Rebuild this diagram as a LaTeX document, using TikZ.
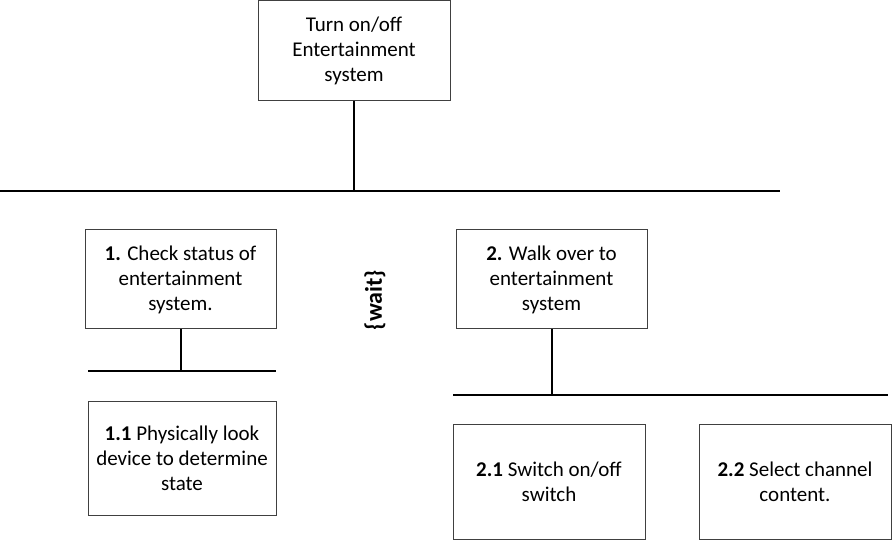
\documentclass[tikz,border=0pt]{standalone}
\usepackage{fontspec}
\setmainfont{Carlito}
\tikzset{
  taskbox/.style={draw=black!75,line width=1pt,align=center,inner sep=2pt,
    font=\fontsize{21}{25}\selectfont},
  bus/.style={line width=2pt}
}
\begin{document}
\begin{tikzpicture}[x=1pt,y=-1pt]
  \useasboundingbox (0,0) rectangle (895,540);
  \node[taskbox,minimum width=192,minimum height=100] (top) at (354,51) {Turn on/off\\Entertainment\\system};
  \node[taskbox,minimum width=191,minimum height=99] (t1) at (180.5,279.5) {\textbf{1.} Check status of\\entertainment\\system.};
  \node[taskbox,minimum width=188,minimum height=114] (t11) at (182,458) {\textbf{1.1} Physically look\\device to determine\\state};
  \node[taskbox,minimum width=191,minimum height=99] (t2) at (551.5,279.5) {\textbf{2.} Walk over to\\entertainment\\system};
  \node[taskbox,minimum width=192,minimum height=115] (t21) at (549,481.5) {\textbf{2.1} Switch on/off\\switch};
  \node[taskbox,minimum width=192,minimum height=115] (t22) at (795,481.5) {\textbf{2.2} Select channel\\content.};
  \node[rotate=90,font=\fontsize{24}{24}\selectfont\bfseries] (wait) at (375,300) {\{wait\}};
  \coordinate (busL) at (0,191);
  \coordinate (busR) at (780,191);
  \coordinate (bus1L) at (88,371);
  \coordinate (bus1R) at (276,371);
  \coordinate (bus2L) at (453,395);
  \coordinate (bus2R) at (888,395);
  \draw[bus] (busL) -- (busR);
  \draw[bus] (top.south) -- (top.south |- busL);
  \draw[bus] (bus1L) -- (bus1R);
  \draw[bus] (t1.south) -- (t1.south |- bus1L);
  \draw[bus] (bus2L) -- (bus2R);
  \draw[bus] (t2.south) -- (t2.south |- bus2L);
\end{tikzpicture}
\end{document}
